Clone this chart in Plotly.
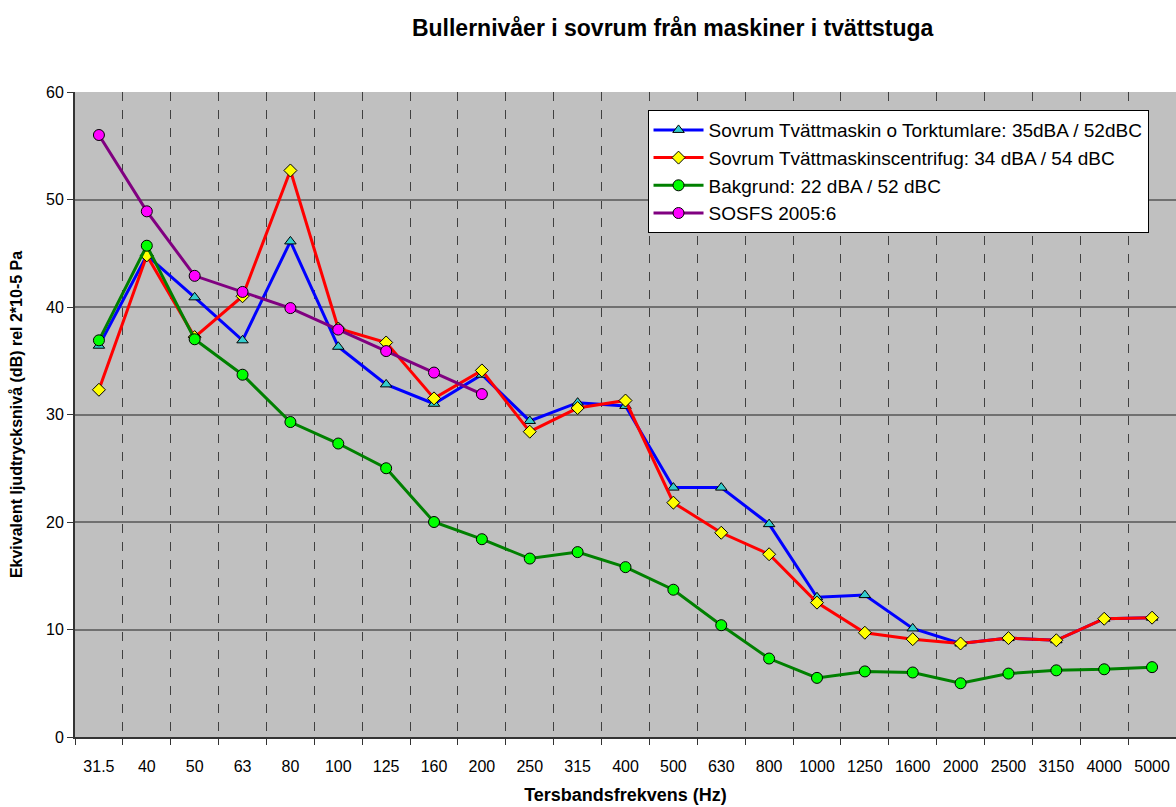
import plotly.graph_objects as go

freqs = ['31.5', '40', '50', '63', '80', '100', '125', '160', '200', '250', '315', '400',
         '500', '630', '800', '1000', '1250', '1600', '2000', '2500', '3150', '4000', '5000']

tvatt_tork = [36.4, 44.8, 40.9, 36.9, 46.1, 36.3, 32.8, 31.0, 33.7, 29.4, 31.1, 30.8,
              23.2, 23.2, 19.8, 13.0, 13.2, 10.1, 8.7, 9.2, 9.0, 11.0, 11.1]
centrifug = [32.3, 44.8, 37.2, 41.0, 52.7, 38.0, 36.7, 31.5, 34.1, 28.4, 30.6, 31.3,
             21.8, 19.0, 17.0, 12.5, 9.7, 9.1, 8.7, 9.2, 9.0, 11.0, 11.1]
bakgrund = [36.9, 45.7, 37.0, 33.7, 29.3, 27.3, 25.0, 20.0, 18.4, 16.6, 17.2, 15.8,
            13.7, 10.4, 7.3, 5.5, 6.1, 6.0, 5.0, 5.9, 6.2, 6.3, 6.5]
sosfs = [56.0, 48.9, 42.9, 41.4, 39.9, 37.9, 35.9, 33.9, 31.9]

names = ['Sovrum Tvättmaskin o Torktumlare: 35dBA / 52dBC',
         'Sovrum Tvättmaskinscentrifug: 34 dBA / 54 dBC',
         'Bakgrund: 22 dBA / 52 dBC',
         'SOSFS 2005:6']

fig = go.Figure()
fig.add_trace(go.Scatter(
    x=freqs, y=tvatt_tork, mode='lines+markers', name=names[0],
    line=dict(color='#0000FF', width=3),
    marker=dict(symbol='triangle-up', size=10, color='#33CCCC', line=dict(color='black', width=1))
))
fig.add_trace(go.Scatter(
    x=freqs, y=centrifug, mode='lines+markers', name=names[1],
    line=dict(color='#FF0000', width=3),
    marker=dict(symbol='diamond', size=10, color='#FFFF00', line=dict(color='black', width=1))
))
fig.add_trace(go.Scatter(
    x=freqs, y=bakgrund, mode='lines+markers', name=names[2],
    line=dict(color='#008000', width=3),
    marker=dict(symbol='circle', size=11, color='#00FF00', line=dict(color='black', width=1))
))
fig.add_trace(go.Scatter(
    x=freqs[:len(sosfs)], y=sosfs, mode='lines+markers', name=names[3],
    line=dict(color='#800080', width=3),
    marker=dict(symbol='circle', size=11, color='#FF00FF', line=dict(color='black', width=1))
))

fig.update_layout(
    width=1176, height=807,
    margin=dict(l=75, r=0, t=92, b=70),
    paper_bgcolor='white',
    plot_bgcolor='#C0C0C0',
    font=dict(family='Liberation Sans, Arial', size=16, color='black'),
    title=dict(text='<b>Bullernivåer i sovrum från maskiner i tvättstuga</b>',
               x=0.572, xanchor='center', y=0.965, yanchor='middle',
               font=dict(size=23)),
    legend=dict(x=0.52, y=0.972, xanchor='left', yanchor='top',
                bgcolor='white', bordercolor='black', borderwidth=1,
                font=dict(size=19), tracegroupgap=0, itemwidth=50),
    showlegend=True,
)
fig.update_xaxes(
    type='category', range=[-0.5, len(freqs) - 0.5],
    tickson='boundaries', ticks='outside', ticklen=6,
    tickcolor='#333333', showgrid=True, gridcolor='#404040', griddash='dash', gridwidth=1,
    showline=True, linecolor='#333333', linewidth=2,
    title=dict(text='<b>Tersbandsfrekvens (Hz)</b>', font=dict(size=18), standoff=14),
    tickfont=dict(size=16), tickangle=0, ticklabelstandoff=14, automargin=False,
)
fig.update_yaxes(
    range=[0, 60], dtick=10, ticks='outside', ticklen=6, tickcolor='#333333',
    showgrid=True, gridcolor='#707070', gridwidth=1.5,
    showline=True, linecolor='#333333', linewidth=2, zeroline=False,
    title=dict(text='<b>Ekvivalent ljudtrycksnivå (dB) rel 2*10-5 Pa</b>', font=dict(size=16), standoff=19),
    tickfont=dict(size=16), automargin=False,
)

fig.write_html("out.html", config={'displayModeBar': False},
               post_script="document.body.style.margin='0';")
